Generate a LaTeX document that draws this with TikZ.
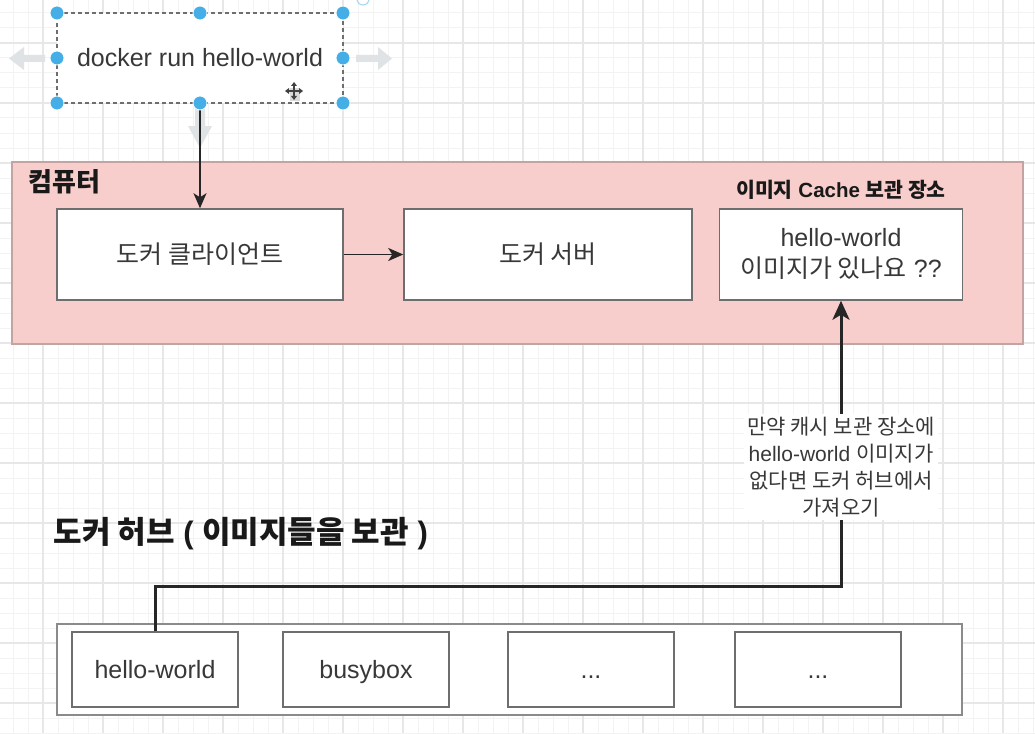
\documentclass[tikz,border=0pt]{standalone}
\usepackage{fontspec}
\setmainfont{Liberation Sans}
\newfontfamily\kr{Noto Sans CJK KR}
\usetikzlibrary{arrows.meta}
\definecolor{minorg}{HTML}{F3F3F3}
\definecolor{majorg}{HTML}{E7E7E7}
\definecolor{pinkfill}{HTML}{F8CECC}
\definecolor{pinkline}{HTML}{C4A4A3}
\definecolor{boxline}{HTML}{6E6E6E}
\definecolor{txt}{HTML}{383838}
\definecolor{selblue}{HTML}{45AEE6}
\definecolor{hover}{HTML}{E0E3E5}
\tikzset{
  minorgrid/.style={draw=minorg, line width=1pt},
  majorgrid/.style={draw=majorg, line width=1.2pt},
  wbox/.style={draw=boxline, line width=1.5pt, fill=white, inner sep=0pt,
    text=txt, align=center, font=\fontsize{25}{31}\selectfont},
  hubimg/.style={wbox, minimum width=166pt, minimum height=75pt, text height=19pt, text depth=2pt},
  thinarrow/.style={draw=black!85, line width=1.8pt, -{Stealth[length=15pt,width=13pt,inset=4pt]}},
  bigarrow/.style={draw=black!85, line width=3pt, -{Stealth[length=19pt,width=17pt,inset=5pt]}},
  seldot/.style={circle, fill=selblue, draw=white, line width=0.8pt, minimum size=14pt, inner sep=0pt},
  title/.style={text=black!90, font=\bfseries},
}
\begin{document}
\begin{tikzpicture}[x=1pt,y=-1pt]
\useasboundingbox (0,0) rectangle (1035,733);
\fill[white] (0,0) rectangle (1035,733);
% grid
\foreach \g in {13,28,...,1033} \draw[minorgrid] (\g,0) -- (\g,733);
\foreach \g in {13,28,...,733} \draw[minorgrid] (0,\g) -- (1035,\g);
\foreach \g in {43,103,...,1003} \draw[majorgrid] (\g,0) -- (\g,733);
\foreach \g in {43,103,...,703} \draw[majorgrid] (0,\g) -- (1035,\g);

% computer container
\node[draw=pinkline, fill=pinkfill, line width=1.2pt, minimum width=1011pt, minimum height=182pt, inner sep=0pt] (pc) at (517.5,253) {};
\node[title, anchor=west, font=\fontsize{26}{30}\selectfont\bfseries] (pclabel) at (25,182) {\kr 컴퓨터};

% hover arrows (selection UI)
\fill[hover] (356,55) -- (378,55) -- (378,47) -- (392,58.5) -- (378,70) -- (378,62) -- (356,62) -- cycle;
\fill[hover] (45,55) -- (24,55) -- (24,47) -- (9,58.5) -- (24,70) -- (24,62) -- (45,62) -- cycle;
\fill[hover] (195,108) -- (205,108) -- (205,126) -- (212,126) -- (200,148) -- (188,126) -- (195,126) -- cycle;

% docker run box
\node[draw=boxline, dashed, dash pattern=on 4pt off 3pt, line width=1.3pt, fill=white, minimum width=286pt, minimum height=90pt, inner sep=0pt, text=txt, font=\fontsize{25}{30}\selectfont] (run) at (200,58) {docker run hello-world};

% boxes in the computer
\node[wbox, minimum width=286pt, minimum height=91pt] (client) at (200,254.5) {\kr 도커 클라이언트};
\node[wbox, minimum width=288pt, minimum height=91pt] (server) at (548,254.5) {\kr 도커 서버};
\node[wbox, minimum width=243pt, minimum height=91pt, text depth=3pt] (cache) at (841,254.5) {hello-world\\{\kr 이미지가 있나요} ??};
\node[title, font=\fontsize{20.5}{24}\selectfont\bfseries] (cachelabel) at (841,190) {{\kr 이미지} Cache {\kr 보관 장소}};

% connectors
\draw[thinarrow] (run.south) -- (client.north);
\draw[thinarrow] (client.east) -- (server.west);

% selection handles
\foreach \p [count=\k] in {(57,13),(200,13),(343,13),(57,58),(343,58),(57,103),(200,103),(343,103)}
  \node[seldot] (h\k) at \p {};
\draw[selblue!45, line width=1.2pt] (363,-1) circle (6);

% move cursor
\begin{scope}[shift={(294,91)}]
  \fill[black!15] (-4,-3) rectangle (6,10);
  \draw[black!75, line width=1.3pt] (-7,0) -- (7,0) (0,-7) -- (0,7);
  \fill[black!75] (-9,0) -- (-5,-3) -- (-5,3) -- cycle;
  \fill[black!75] (9,0) -- (5,-3) -- (5,3) -- cycle;
  \fill[black!75] (0,-9) -- (-3,-5) -- (3,-5) -- cycle;
  \fill[black!75] (0,9) -- (-3,5) -- (3,5) -- cycle;
\end{scope}

% docker hub
\node[title, anchor=west, font=\fontsize{31}{36}\selectfont\bfseries] (hublabel) at (50,534) {{\kr 도커 허브} ( {\kr 이미지들을 보관} )};
\node[draw=boxline!80, line width=1.4pt, fill=white, minimum width=905pt, minimum height=91pt, inner sep=0pt] (hub) at (509.5,669.5) {};
\node[hubimg] (img1) at (155,669.5) {hello-world};
\node[hubimg] (img2) at (366,669.5) {busybox};
\node[hubimg] (img3) at (591,669.5) {...};
\node[hubimg] (img4) at (818,669.5) {...};

% pull arrow
\coordinate (bend) at (841,586);
\draw[bigarrow] (img1.north) |- (bend) -- (cache.south);
\node[fill=white, inner sep=3pt, align=center, text=txt, font=\fontsize{21}{27}\selectfont] (pull) at (841,467)
  {{\kr 만약 캐시 보관 장소에}\\hello-world {\kr 이미지가}\\{\kr 없다면 도커 허브에서}\\{\kr 가져오기}};
\end{tikzpicture}
\end{document}
